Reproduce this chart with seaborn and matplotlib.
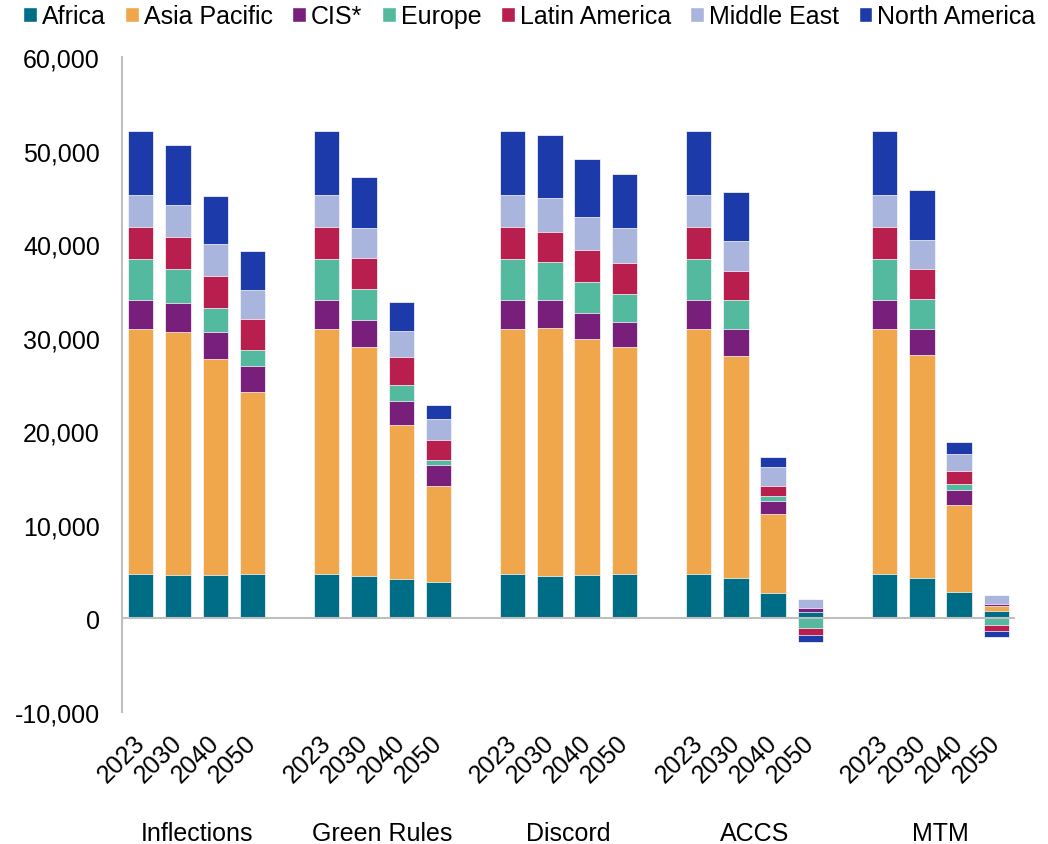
"""
plot.py - stacked regional bars per scenario and year (recreated chart)

Run: python3 plot.py  ->  out.png
"""

import numpy as np
import pandas as pd
import matplotlib
matplotlib.use("Agg")
import matplotlib.pyplot as plt
import matplotlib.transforms as mtransforms
from matplotlib.patches import Patch
from matplotlib.ticker import FuncFormatter
import seaborn as sns

# ── Data ─────────────────────────────────────────────────────────────────────
scenarios = ["Inflections", "Green Rules", "Discord", "ACCS", "MTM"]
years = ["2023", "2030", "2040", "2050"]
regions = ["Africa", "Asia Pacific", "CIS*", "Europe",
           "Latin America", "Middle East", "North America"]

# each list: scenario by scenario, years 2023 / 2030 / 2040 / 2050
africa = [4750, 4620, 4650, 4750,
          4750, 4510, 4220, 3900,
          4750, 4580, 4620, 4800,
          4750, 4360, 2670, 730,
          4750, 4360, 2790, 820]
asia_pacific = [26200, 26040, 23100, 19400,
                26200, 24480, 16460, 10230,
                26200, 26440, 25230, 24200,
                26200, 23700, 8500, 0,
                26200, 23800, 9320, 490]
cis = [3080, 3090, 2910, 2840,
       3080, 2940, 2560, 2240,
       3080, 3020, 2770, 2670,
       3080, 2820, 1400, 340,
       3080, 2820, 1650, 250]
europe = [4370, 3590, 2530, 1710,
          4370, 3270, 1660, 575,
          4370, 4020, 3340, 2980,
          4370, 3150, 480, -970,
          4370, 3150, 590, -680]
latin_america = [3440, 3410, 3440, 3270,
                 3440, 3270, 2990, 2170,
                 3440, 3270, 3380, 3340,
                 3440, 3150, 1100, -760,
                 3440, 3230, 1360, -640]
middle_east = [3460, 3410, 3380, 3160,
               3460, 3300, 2840, 2200,
               3460, 3590, 3580, 3700,
               3460, 3150, 2000, 1010,
               3460, 3120, 1910, 920]
north_america = [6800, 6400, 5080, 4090,
                 6800, 5440, 3120, 1490,
                 6800, 6720, 6150, 5760,
                 6800, 5250, 1060, -790,
                 6800, 5320, 1250, -680]

colors = ["#006D87", "#F0A64B", "#781F7C", "#54BA9F",
          "#B91F4E", "#AAB5DE", "#1C3AAA"]

series = [africa, asia_pacific, cis, europe, latin_america, middle_east, north_america]

# ── Long table with slot positions (one spacer slot between scenarios) ───────
slot_order = []
for g, sc in enumerate(scenarios):
    slot_order += [f"{sc} {y}" for y in years]
    if g < len(scenarios) - 1:
        slot_order.append(f"gap{g}")

rows = []
for k, (reg, vals) in enumerate(zip(regions, series)):
    for g, sc in enumerate(scenarios):
        for i, y in enumerate(years):
            rows.append({"region": reg, "k": k, "scenario": sc, "year": y,
                         "slot": f"{sc} {y}", "pos": g * 5 + i,
                         "value": vals[g * 4 + i]})
df = pd.DataFrame(rows)

# positive values stack upwards, negative values stack downwards (Excel style)
df["pos_part"] = df["value"].clip(lower=0)
df["neg_part"] = df["value"].clip(upper=0)
df = df.sort_values(["slot", "k"])
df["cum_pos"] = df.groupby("slot")["pos_part"].cumsum()
df["cum_neg"] = df.groupby("slot")["neg_part"].cumsum()

# ── Figure ───────────────────────────────────────────────────────────────────
sns.set_style("white")
plt.rcParams["font.family"] = ["Liberation Sans", "DejaVu Sans"]
for key in ("text.color", "axes.labelcolor", "xtick.color", "ytick.color"):
    plt.rcParams[key] = "black"

fig = plt.figure(figsize=(10.48, 8.45), dpi=100)
ax = fig.add_axes([0.1166, 0.1562, 0.8518, 0.7752])

# draw cumulative bars from the outermost layer inward so each covers the next
for k in reversed(range(len(regions))):
    for col, mask in (("cum_pos", df["value"] > 0), ("cum_neg", df["value"] < 0)):
        sub = df[(df["k"] == k) & mask]
        if sub.empty:
            continue
        sns.barplot(data=sub, x="slot", y=col, order=slot_order,
                    color=colors[k], saturation=1, width=0.68,
                    errorbar=None, edgecolor="white", linewidth=0.5, ax=ax)

ax.set_xlim(-0.5, len(slot_order) - 0.5)
ax.set_ylim(-10000, 60000)
ax.set_yticks(np.arange(-10000, 60001, 10000))
ax.yaxis.set_major_formatter(FuncFormatter(lambda v, p: f"{v:,.0f}"))
ax.tick_params(axis="y", length=0, pad=16, labelsize=18, labelcolor="black")
ax.set_xlabel("")
ax.set_ylabel("")

# year ticks
year_pos = [g * 5 + i for g in range(len(scenarios)) for i in range(len(years))]
ax.set_xticks(year_pos)
ax.set_xticklabels(years * len(scenarios), rotation=45, ha="right", va="center",
                   rotation_mode="anchor", fontsize=18, color="black")
ax.tick_params(axis="x", length=0, pad=19)

# axes lines
for side in ("top", "right", "bottom"):
    ax.spines[side].set_visible(False)
ax.spines["left"].set_color("#BFBFBF")
ax.spines["left"].set_linewidth(1.5)
ax.axhline(0, color="#BFBFBF", lw=1.5, zorder=5)

# scenario names
trans = mtransforms.blended_transform_factory(ax.transData, ax.transAxes)
for g, sc in enumerate(scenarios):
    ax.text(g * 5 + 1.5, -0.1845, sc, transform=trans, ha="center", va="center",
            fontsize=18, color="black")

# legend
handles = [Patch(facecolor=c, label=r) for r, c in zip(regions, colors)]
leg = fig.legend(handles=handles, loc="upper center", bbox_to_anchor=(0.505, 1.0),
                 ncol=7, frameon=False, fontsize=18, handlelength=0.55,
                 handleheight=0.55, handletextpad=0.2, columnspacing=0.78,
                 borderpad=0.2, borderaxespad=0)
for t in leg.get_texts():
    t.set_color("black")

fig.savefig("out.png", dpi=100)
plt.close(fig)
